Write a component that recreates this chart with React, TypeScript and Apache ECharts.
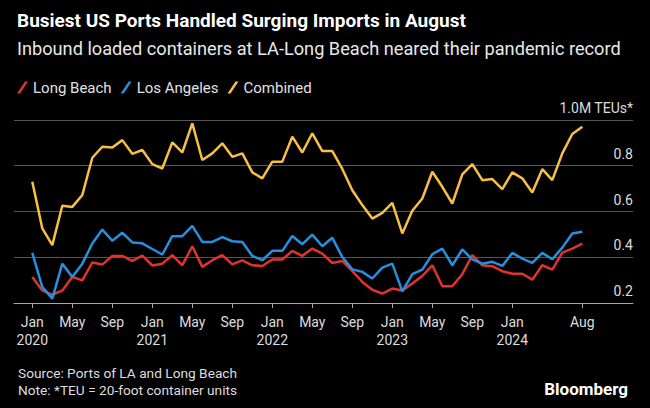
import React, { useEffect, useRef } from "react";
import * as echarts from "echarts";

// Monthly, Jan 2020 (index 0) .. Aug 2024 (index 55), million TEUs
const longBeach = [
  0.314, 0.255, 0.236, 0.255, 0.314, 0.299, 0.377, 0.368, 0.406, 0.406, 0.384, 0.407,
  0.364, 0.372, 0.409, 0.365, 0.448, 0.358, 0.387, 0.409, 0.369, 0.386, 0.365, 0.362,
  0.390, 0.390, 0.428, 0.406, 0.438, 0.416, 0.375, 0.384, 0.340, 0.292, 0.258, 0.241,
  0.263, 0.255, 0.285, 0.318, 0.365, 0.273, 0.273, 0.326, 0.409, 0.365, 0.361, 0.339,
  0.328, 0.328, 0.302, 0.365, 0.346, 0.420, 0.438, 0.460,
];
const losAngeles = [
  0.419, 0.270, 0.219, 0.372, 0.314, 0.372, 0.460, 0.521, 0.472, 0.507, 0.465, 0.461,
  0.436, 0.412, 0.492, 0.492, 0.537, 0.467, 0.467, 0.488, 0.470, 0.467, 0.406, 0.387,
  0.428, 0.428, 0.493, 0.457, 0.499, 0.448, 0.485, 0.401, 0.347, 0.336, 0.307, 0.355,
  0.372, 0.251, 0.326, 0.346, 0.413, 0.438, 0.365, 0.434, 0.391, 0.372, 0.380, 0.362,
  0.419, 0.394, 0.375, 0.419, 0.391, 0.442, 0.504, 0.511,
];
const combined = [
  0.730, 0.526, 0.453, 0.625, 0.620, 0.672, 0.835, 0.883, 0.880, 0.912, 0.852, 0.869,
  0.807, 0.788, 0.902, 0.858, 0.985, 0.825, 0.854, 0.898, 0.839, 0.854, 0.771, 0.745,
  0.818, 0.818, 0.927, 0.858, 0.942, 0.864, 0.864, 0.786, 0.693, 0.628, 0.569, 0.594,
  0.638, 0.504, 0.603, 0.657, 0.774, 0.708, 0.635, 0.762, 0.807, 0.737, 0.742, 0.698,
  0.771, 0.745, 0.683, 0.785, 0.737, 0.854, 0.939, 0.971,
];

const tickMonths = [0, 4, 8, 12, 16, 20, 24, 28, 32, 36, 40, 44, 48, 55];
const tickLabels = [
  "Jan\n2020", "May", "Sep", "Jan\n2021", "May", "Sep", "Jan\n2022", "May", "Sep",
  "Jan\n2023", "May", "Sep", "Jan\n2024", "Aug",
];
const yTicks = [0.2, 0.4, 0.6, 0.8, 1.0];

const seriesNames = ["Long Beach", "Los Angeles", "Combined"];
const seriesColors = ["#e0332f", "#2590e0", "#f7bf45"];

const FONT = "Roboto, 'Liberation Sans', Arial, sans-serif";

export default function App() {
  const ref = useRef<HTMLDivElement>(null);
  useEffect(() => {
    if (!ref.current) return;
    const chart = echarts.init(ref.current, null, { renderer: "svg" });
    const datasets = [longBeach, losAngeles, combined];
    const option: any = {
      animation: false,
      backgroundColor: "#000000",
      textStyle: { fontFamily: FONT },
      title: [
        {
          text: "Busiest US Ports Handled Surging Imports in August",
          left: 12,
          top: 6,
          textStyle: { color: "#ffffff", fontSize: 19, fontWeight: "bold", fontFamily: FONT },
        },
        {
          text: "Inbound loaded containers at LA-Long Beach neared their pandemic record",
          left: 12,
          top: 34,
          textStyle: { color: "#e8e8e8", fontSize: 18.2, fontWeight: "normal", fontFamily: FONT },
        },
        {
          text: "Source: Ports of LA and Long Beach",
          left: 13,
          top: 361,
          textStyle: { color: "#dddddd", fontSize: 13.7, fontWeight: "normal", fontFamily: FONT },
        },
        {
          text: "Note: *TEU = 20-foot container units",
          left: 13,
          top: 378,
          textStyle: { color: "#dddddd", fontSize: 13.7, fontWeight: "normal", fontFamily: FONT },
        },
        {
          text: "Bloomberg",
          right: 17,
          top: 375,
          textStyle: { color: "#ffffff", fontSize: 17, fontWeight: "bold", fontFamily: FONT },
        },
      ],
      legend: {
        left: 12,
        top: 75,
        itemWidth: 11,
        itemHeight: 12,
        itemGap: 9,
        icon: "path://M8,0 L11,0 L3,12 L0,12 Z",
        textStyle: { color: "#e0e0e0", fontSize: 15, fontFamily: FONT },
        data: seriesNames,
      },
      grid: { left: 14, right: 17, top: 120, bottom: 105, containLabel: false },
      xAxis: {
        type: "value",
        min: -1.83,
        max: 60.07,
        splitLine: { show: false },
        axisLine: { show: true, lineStyle: { color: "#a8a8a8", width: 1 } },
        axisTick: {
          show: true,
          length: 5,
          customValues: tickMonths,
          lineStyle: { color: "#a8a8a8" },
        },
        axisLabel: {
          customValues: tickMonths,
          color: "#dddddd",
          fontSize: 14,
          lineHeight: 18,
          margin: 10,
          fontFamily: FONT,
          formatter: (v: number) => {
            const idx = tickMonths.indexOf(Math.round(v));
            return idx >= 0 ? tickLabels[idx] : "";
          },
        },
      },
      yAxis: {
        type: "value",
        position: "right",
        min: 0.2,
        max: 1.0,
        interval: 0.2,
        axisLine: { show: false },
        axisTick: { show: false },
        splitLine: { show: true, lineStyle: { color: "#555555", width: 1 } },
        axisLabel: {
          inside: true,
          margin: 0,
          align: "right",
          verticalAlign: "bottom",
          padding: [0, 0, 5, 0],
          color: "#dddddd",
          fontSize: 14,
          fontFamily: FONT,
          formatter: (v: number) => {
            const t = yTicks.find((y) => Math.abs(y - v) < 1e-6);
            if (t === undefined) return "";
            return t === 1.0 ? "1.0M TEUs*" : t.toFixed(1);
          },
        },
      },
      series: datasets.map((vals, k) => ({
        name: seriesNames[k],
        type: "line",
        data: vals.map((v, i) => [i, v]),
        showSymbol: false,
        symbol: "none",
        color: seriesColors[k],
        lineStyle: { color: seriesColors[k], width: 2.5 },
        itemStyle: { color: seriesColors[k] },
      })),
    };
    chart.setOption(option);
    return () => chart.dispose();
  }, []);
  return (
    <div
      ref={ref}
      style={{ position: "fixed", left: 0, top: 0, width: 650, height: 408 }}
    />
  );
}
